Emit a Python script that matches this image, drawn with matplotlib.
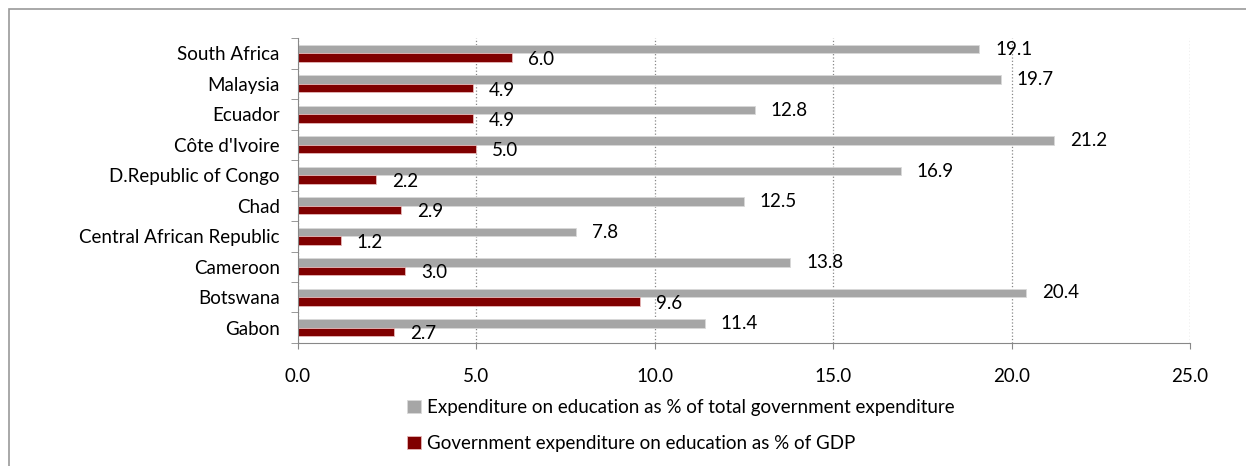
import numpy as np
import matplotlib.pyplot as plt
from matplotlib.patches import Rectangle

plt.rcParams['font.family'] = ['Lato', 'DejaVu Sans']

countries = ["Gabon", "Botswana", "Cameroon", "Central African Republic", "Chad",
             "D.Republic of Congo", "Côte d'Ivoire", "Ecuador", "Malaysia", "South Africa"]
total_exp = [11.4, 20.4, 13.8, 7.8, 12.5, 16.9, 21.2, 12.8, 19.7, 19.1]
gdp_exp = [2.7, 9.6, 3.0, 1.2, 2.9, 2.2, 5.0, 4.9, 4.9, 6.0]
x_ticks = [0, 5, 10, 15, 20, 25]

gray = '#a6a6a6'
red = '#800000'
fs = 13.5

fig = plt.figure(figsize=(12.46, 4.66), dpi=100)
fig.patches.append(Rectangle((0.007, -0.01), 1.0, 0.99, transform=fig.transFigure,
                             fill=False, edgecolor='#999999', linewidth=1.2))
ax = fig.add_axes([0.239, 0.264, 0.716, 0.654])

y = np.arange(len(countries))
h = 0.28
b1 = ax.barh(y + h / 2, total_exp, height=h, color=gray, edgecolor='#d9d9d9', linewidth=0.6,
             label="Expenditure on education as % of total government expenditure")
b2 = ax.barh(y - h / 2, gdp_exp, height=h, color=red, edgecolor='#e6b8b8', linewidth=0.6,
             label="Government expenditure on education as % of GDP")

for yi, v in zip(y, total_exp):
    ax.text(v + 0.45, yi + h / 2, f"{v:.1f}", va='center', ha='left', fontsize=fs)
for yi, v in zip(y, gdp_exp):
    ax.text(v + 0.45, yi - h / 2 - 0.06, f"{v:.1f}", va='center', ha='left', fontsize=fs)

ax.set_xlim(0, 25)
ax.set_ylim(-0.5, len(countries) - 0.5)
ax.set_xticks(x_ticks)
ax.set_xticklabels([f"{t:.1f}" for t in x_ticks], fontsize=fs)
ax.set_yticks(y)
ax.set_yticklabels(countries, fontsize=fs)
ax.set_yticks(np.arange(-0.5, len(countries)), minor=True)
ax.tick_params(axis='y', which='major', length=0, pad=13)
ax.tick_params(axis='y', which='minor', length=5, color='#888888')
ax.tick_params(axis='x', length=4, color='#888888', pad=14)

ax.grid(axis='x', linestyle=':', color='#888888', linewidth=0.9)
ax.set_axisbelow(True)
for s in ['top', 'right']:
    ax.spines[s].set_visible(False)
ax.spines['left'].set_color('#888888')
ax.spines['bottom'].set_color('#888888')

fig.legend(handles=[b1, b2], loc='upper left', bbox_to_anchor=(0.321, 0.16),
           frameon=False, fontsize=fs, handlelength=0.7, handleheight=0.7,
           handletextpad=0.35, labelspacing=1.0, borderaxespad=0)

fig.savefig('out.png', dpi=100)
